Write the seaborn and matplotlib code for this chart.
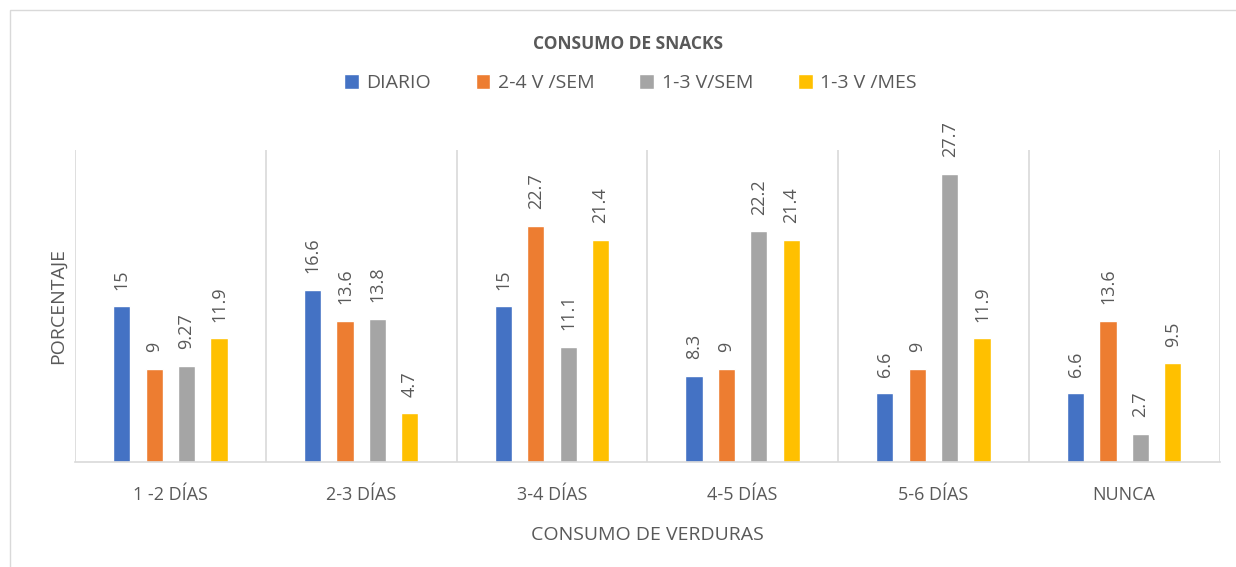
import pandas as pd
import seaborn as sns
import matplotlib.pyplot as plt
from matplotlib.patches import Rectangle

# ----------------------------- DATA ---------------------------------------------------------------------

categorias = ["1 -2 DÍAS", "2-3 DÍAS", "3-4 DÍAS", "4-5 DÍAS", "5-6 DÍAS", "NUNCA"]
series = ["DIARIO", "2-4 V /SEM", "1-3 V/SEM", "1-3 V /MES"]

diario = [15, 16.6, 15, 8.3, 6.6, 6.6]
v24_sem = [9, 13.6, 22.7, 9, 9, 13.6]
v13_sem = [9.27, 13.8, 11.1, 22.2, 27.7, 2.7]
v13_mes = [11.9, 4.7, 21.4, 21.4, 11.9, 9.5]

colores = ["#4472C4", "#ED7D31", "#A5A5A5", "#FFC000"]

rows = []
for serie, vals in zip(series, [diario, v24_sem, v13_sem, v13_mes]):
    for cat, v in zip(categorias, vals):
        rows.append({"cat": cat, "serie": serie, "valor": v})
df = pd.DataFrame(rows)

# ----------------------------- PLOT ---------------------------------------------------------------------

sns.set_style("white")
plt.rcParams["font.family"] = ["Open Sans", "DejaVu Sans"]
gris = "#595959"

fig = plt.figure(figsize=(12.36, 5.67), dpi=100)
ax = fig.add_axes([0.0607, 0.185, 0.926, 0.55])

sns.barplot(
    data=df, x="cat", y="valor", hue="serie", order=categorias, hue_order=series,
    palette=colores, width=0.68, gap=0.47, ax=ax, legend=True, saturation=1,
)

# value labels, rotated
for cont in ax.containers:
    ax.bar_label(cont, labels=[f"{v:g}" for v in cont.datavalues], rotation=90,
                 padding=12, color=gris, fontsize=13)

ax.set_ylim(0, 30)
ax.set_xlim(-0.5, len(categorias) - 0.5)
ax.set_yticks([])
ax.set_xticks(range(len(categorias)))
ax.set_xticklabels(categorias, fontsize=13, color=gris)
ax.tick_params(axis="x", length=0, pad=17)

# vertical separators between categories
ax.set_xticks([i - 0.5 for i in range(len(categorias) + 1)], minor=True)
ax.tick_params(axis="x", which="minor", length=0)
ax.grid(True, axis="x", which="minor", color="#D9D9D9", linewidth=1.2)
ax.set_axisbelow(True)

for s in ["left", "right", "top"]:
    ax.spines[s].set_visible(False)
ax.spines["bottom"].set_color("#D9D9D9")
ax.spines["bottom"].set_linewidth(1.2)

ax.set_xlabel("CONSUMO DE VERDURAS", fontsize=14, color=gris, labelpad=16)
ax.set_ylabel("PORCENTAJE", fontsize=14, color=gris, labelpad=6)

ax.legend(loc="center", bbox_to_anchor=(0.51, 0.853), bbox_transform=fig.transFigure,
          ncol=4, frameon=False, fontsize=14, labelcolor=gris, handlelength=0.75,
          handleheight=0.75, handletextpad=0.4, columnspacing=2.3)

fig.text(0.508, 0.922, "CONSUMO DE SNACKS", ha="center", va="center", fontsize=12.5,
         fontweight="bold", color=gris)

# chart border
fig.patches.append(Rectangle((0.008, -0.1), 1.1, 1.082, transform=fig.transFigure,
                             fill=False, edgecolor="#D9D9D9", linewidth=1))

fig.savefig("out.png", dpi=100)
